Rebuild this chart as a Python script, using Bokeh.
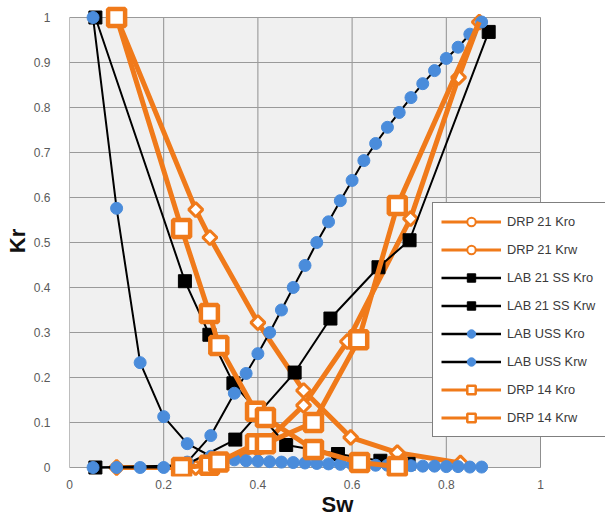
from bokeh.plotting import figure
from bokeh.models import Legend, LegendItem, FixedTicker, NumeralTickFormatter, BoxAnnotation
from bokeh.embed import file_html
from bokeh.resources import INLINE

# ---------------- data ----------------
x_ticks = [0, 0.2, 0.4, 0.6, 0.8, 1.0]
y_ticks = [0, 0.1, 0.2, 0.3, 0.4, 0.5, 0.6, 0.7, 0.8, 0.9, 1.0]

drp21_kro_sw = [0.10, 0.268, 0.298, 0.40, 0.497, 0.597, 0.696, 0.83]
drp21_kro = [1.00, 0.573, 0.511, 0.322, 0.171, 0.067, 0.033, 0.010]
drp21_krw_sw = [0.10, 0.268, 0.298, 0.40, 0.497, 0.59, 0.724, 0.826, 0.87]
drp21_krw = [0.0, 0.0, 0.005, 0.04, 0.138, 0.28, 0.553, 0.867, 0.99]

lab21_kro_sw = [0.055, 0.245, 0.297, 0.348, 0.46, 0.57, 0.66, 0.72]
lab21_kro = [1.0, 0.414, 0.295, 0.187, 0.05, 0.03, 0.015, 0.008]
lab21_krw_sw = [0.055, 0.245, 0.352, 0.478, 0.554, 0.656, 0.722, 0.89]
lab21_krw = [0.0, 0.005, 0.062, 0.211, 0.331, 0.445, 0.505, 0.968]

uss_sw = [0.05, 0.10, 0.15, 0.20, 0.25, 0.30, 0.35, 0.375, 0.40, 0.425, 0.45, 0.475,
          0.50, 0.525, 0.55, 0.575, 0.60, 0.625, 0.65, 0.675, 0.70, 0.725, 0.75,
          0.775, 0.80, 0.825, 0.85, 0.875]
uss_kro = [1.0, 0.576, 0.233, 0.113, 0.053, 0.025, 0.017, 0.015, 0.014, 0.013, 0.012,
           0.011, 0.010, 0.009, 0.008, 0.007, 0.007, 0.006, 0.005, 0.005, 0.004, 0.004,
           0.003, 0.003, 0.002, 0.002, 0.001, 0.001]
uss_krw = [0.0, 0.0, 0.0, 0.0, 0.012, 0.071, 0.165, 0.209, 0.253, 0.300, 0.350, 0.400,
           0.449, 0.500, 0.546, 0.593, 0.638, 0.682, 0.720, 0.756, 0.789, 0.822, 0.853,
           0.882, 0.909, 0.934, 0.963, 0.990]

drp14_kro_sw = [0.10, 0.238, 0.297, 0.317, 0.395, 0.416, 0.518, 0.616, 0.696]
drp14_kro = [1.0, 0.531, 0.342, 0.271, 0.125, 0.111, 0.040, 0.011, 0.002]
drp14_krw_sw = [0.238, 0.297, 0.317, 0.395, 0.416, 0.518, 0.614, 0.696, 0.87]
drp14_krw = [0.0, 0.005, 0.012, 0.053, 0.053, 0.10, 0.284, 0.582, 0.99]

labels = ["DRP 21 Kro", "DRP 21 Krw", "LAB 21 SS Kro", "LAB 21 SS Krw",
          "LAB USS Kro", "LAB USS Krw", "DRP 14 Kro", "DRP 14 Krw"]

# ---------------- styles ----------------
ORANGE = "#F07A1A"
BLUE = "#4A8CDB"
FONT = "Liberation Sans"
AX_MIN, AX_MAX = 0.0, 1.0

# frame runs past the 0..1 plot area so markers and the legend are not clipped
p = figure(width=605, height=525, x_range=(0, 1.138), y_range=(-0.02, 1.0267),
           output_backend="svg", toolbar_location=None,
           min_border_left=69, min_border_right=0, min_border_top=5, min_border_bottom=49)
p.background_fill_color = "white"
p.border_fill_color = "white"
p.outline_line_color = None
p.xgrid.visible = False
p.ygrid.visible = False

p.add_layout(BoxAnnotation(left=AX_MIN, right=AX_MAX, bottom=AX_MIN, top=AX_MAX,
                           fill_color="#f0f0f0", fill_alpha=1, line_color="#8a8a8a",
                           line_width=1, level="underlay"))

# grid lines inside the plot area
p.segment(x0=x_ticks, y0=[AX_MIN] * len(x_ticks), x1=x_ticks, y1=[AX_MAX] * len(x_ticks),
          line_color="#8f8f8f", line_width=1)
p.segment(x0=[AX_MIN] * len(y_ticks), y0=y_ticks, x1=[AX_MAX] * len(y_ticks), y1=y_ticks,
          line_color="#9a9a9a", line_width=1)

p.xaxis.ticker = FixedTicker(ticks=x_ticks)
p.yaxis.ticker = FixedTicker(ticks=y_ticks)
for ax in (p.xaxis, p.yaxis):
    ax.formatter = NumeralTickFormatter(format="0.[0]")
    ax.axis_line_color = None
    ax.major_tick_line_color = None
    ax.minor_tick_line_color = None
    ax.major_label_text_font = FONT
    ax.major_label_text_font_size = "12px"
    ax.major_label_text_color = "#5a5a5a"
    ax.axis_label_text_font = FONT
    ax.axis_label_text_font_size = "22px"
    ax.axis_label_text_font_style = "bold"
    ax.axis_label_text_color = "#111111"
p.xaxis.axis_label = "Sw"
p.yaxis.axis_label = "Kr"
p.xaxis.major_label_standoff = -3
p.yaxis.major_label_standoff = 13
p.xaxis.axis_label_standoff = 0
p.yaxis.axis_label_standoff = 1

ROT = 0.7854

# DRP 21
p.line(drp21_kro_sw, drp21_kro, line_color=ORANGE, line_width=5)
p.scatter(drp21_kro_sw, drp21_kro, marker="square", angle=ROT, size=10,
          fill_color="white", line_color=ORANGE, line_width=3)
p.line(drp21_krw_sw, drp21_krw, line_color=ORANGE, line_width=5)
p.scatter(drp21_krw_sw, drp21_krw, marker="square", angle=ROT, size=10,
          fill_color="white", line_color=ORANGE, line_width=3)

# LAB 21 SS
p.line(lab21_kro_sw, lab21_kro, line_color="black", line_width=2)
p.scatter(lab21_kro_sw, lab21_kro, marker="square", size=13, fill_color="black", line_color="black")
p.line(lab21_krw_sw, lab21_krw, line_color="black", line_width=2)
p.scatter(lab21_krw_sw, lab21_krw, marker="square", size=13, fill_color="black", line_color="black")

# LAB USS
p.line(uss_sw, uss_kro, line_color="black", line_width=2)
p.scatter(uss_sw, uss_kro, marker="circle", size=12, fill_color=BLUE, line_color=BLUE)
p.line(uss_sw, uss_krw, line_color="black", line_width=2)
p.scatter(uss_sw, uss_krw, marker="circle", size=12, fill_color=BLUE, line_color=BLUE)

# DRP 14
p.line(drp14_kro_sw, drp14_kro, line_color=ORANGE, line_width=5)
p.scatter(drp14_kro_sw, drp14_kro, marker="square", size=17,
          fill_color="white", line_color=ORANGE, line_width=4.5)
p.line(drp14_krw_sw, drp14_krw, line_color=ORANGE, line_width=5)
# the last DRP 14 Krw point is drawn without a marker in the reference
p.scatter(drp14_krw_sw[:-1], drp14_krw[:-1], marker="square", size=17,
          fill_color="white", line_color=ORANGE, line_width=4.5)

# ---------------- legend (hidden, smaller copies of each series) ----------------
series = [(drp21_kro_sw, drp21_kro), (drp21_krw_sw, drp21_krw),
          (lab21_kro_sw, lab21_kro), (lab21_krw_sw, lab21_krw),
          (uss_sw, uss_kro), (uss_sw, uss_krw),
          (drp14_kro_sw, drp14_kro), (drp14_krw_sw, drp14_krw)]
styles = [
    (ORANGE, 3, "circle", 7, "white", ORANGE, 2),
    (ORANGE, 3, "circle", 7, "white", ORANGE, 2),
    ("black", 2.5, "square", 8, "black", "black", 1),
    ("black", 2.5, "square", 8, "black", "black", 1),
    ("black", 2.5, "circle", 5, BLUE, BLUE, 1),
    ("black", 2.5, "circle", 5, BLUE, BLUE, 1),
    (ORANGE, 3, "square", 9, "white", ORANGE, 2.5),
    (ORANGE, 3, "square", 9, "white", ORANGE, 2.5),
]
items = []
for lab, (sx, sy), (lc, lw, mk, ms, mf, ml, mlw) in zip(labels, series, styles):
    r1 = p.line(sx, sy, line_color=lc, line_width=lw, visible=False)
    r2 = p.scatter(sx, sy, marker=mk, size=ms, fill_color=mf, line_color=ml,
                   line_width=mlw, visible=False)
    items.append(LegendItem(label=lab, renderers=[r1, r2]))

legend = Legend(items=items, location=(363, 39))
legend.border_line_color = "black"
legend.border_line_width = 1.5
legend.background_fill_color = "white"
legend.background_fill_alpha = 1
legend.inactive_fill_alpha = 0
legend.label_text_font = FONT
legend.label_text_font_size = "12.8px"
legend.label_text_color = "#3a3a3a"
legend.glyph_width = 60
legend.glyph_height = 21
legend.label_height = 21
legend.label_width = 110
legend.spacing = 7
legend.padding = 8
legend.margin = 0
legend.label_standoff = 6
p.add_layout(legend)

open("out.html", "w").write(file_html(p, INLINE))
